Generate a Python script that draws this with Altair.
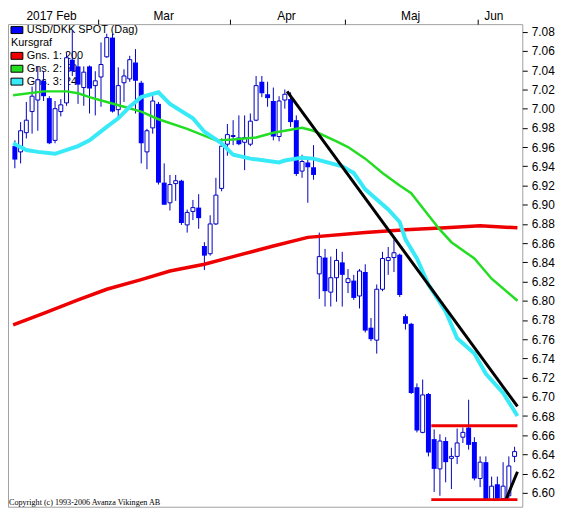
import altair as alt
import pandas as pd

# ---- candle data (trading day index 0..87, Feb 2017 - Jun 2017) ----
opens = [6.961, 6.955, 6.975, 6.997, 7.009, 7.029, 7.011, 6.967, 6.997, 7.006,
         7.051, 7.044, 7.022, 7.044, 7.024, 7.033, 7.054, 7.074, 6.999, 7.027,
         7.031, 7.048, 7.027, 6.955, 6.980, 7.005, 6.923, 6.902, 6.922, 6.925,
         6.879, 6.893, 6.897, 6.857, 6.849, 6.880, 6.917, 6.963, 6.971, 6.970,
         6.965, 6.963, 6.988, 7.028, 7.015, 7.008, 6.971, 7.009, 7.010, 6.988,
         6.935, 6.944, 6.939, 6.828, 6.845, 6.809, 6.824, 6.840, 6.819, 6.821,
         6.805, 6.830, 6.772, 6.759, 6.812, 6.842, 6.845, 6.848, 6.784, 6.776,
         6.710, 6.663, 6.703, 6.656, 6.625, 6.654, 6.636, 6.638, 6.658, 6.668,
         6.653, 6.615, 6.632, 6.593, 6.609, 6.594, 6.597, 6.638]
highs = [6.967, 6.986, 7.007, 7.023, 7.044, 7.039, 7.013, 7.008, 7.010, 7.058,
         7.081, 7.053, 7.044, 7.045, 7.039, 7.069, 7.078, 7.078, 7.043, 7.041,
         7.055, 7.062, 7.029, 6.979, 7.013, 7.007, 6.943, 6.931, 6.931, 6.926,
         6.895, 6.905, 6.911, 6.861, 6.889, 6.928, 6.969, 6.984, 6.988, 6.993,
         6.993, 6.995, 7.034, 7.034, 7.028, 7.022, 7.013, 7.020, 7.017, 6.993,
         6.952, 6.948, 6.962, 6.871, 6.854, 6.846, 6.854, 6.851, 6.833, 6.827,
         6.833, 6.838, 6.782, 6.817, 6.851, 6.856, 6.864, 6.849, 6.786, 6.777,
         6.714, 6.718, 6.704, 6.666, 6.661, 6.658, 6.647, 6.667, 6.668, 6.697,
         6.658, 6.638, 6.638, 6.617, 6.617, 6.632, 6.638, 6.648]
lows = [6.938, 6.943, 6.969, 6.974, 6.977, 7.008, 6.963, 6.964, 6.992, 7.003,
        7.034, 7.005, 7.003, 6.995, 6.993, 7.002, 7.053, 6.996, 6.990, 7.007,
        7.028, 6.995, 6.943, 6.937, 6.974, 6.921, 6.900, 6.894, 6.904, 6.879,
        6.871, 6.884, 6.875, 6.832, 6.847, 6.879, 6.914, 6.951, 6.962, 6.962,
        6.936, 6.961, 6.987, 7.012, 7.002, 6.967, 6.966, 7.000, 6.981, 6.930,
        6.928, 6.902, 6.926, 6.802, 6.794, 6.794, 6.799, 6.794, 6.808, 6.801,
        6.792, 6.767, 6.758, 6.745, 6.810, 6.827, 6.830, 6.804, 6.770, 6.703,
        6.663, 6.662, 6.638, 6.601, 6.597, 6.611, 6.604, 6.630, 6.652, 6.645,
        6.613, 6.606, 6.592, 6.592, 6.592, 6.593, 6.594, 6.632]
closes = [6.947, 6.977, 6.988, 7.013, 7.030, 7.013, 6.964, 7.000, 7.004, 7.053,
          7.039, 7.025, 7.038, 7.021, 7.029, 7.046, 7.074, 6.997, 7.024, 7.034,
          7.051, 7.029, 6.964, 6.977, 7.008, 6.923, 6.900, 6.921, 6.925, 6.881,
          6.892, 6.897, 6.886, 6.847, 6.880, 6.910, 6.961, 6.973, 6.972, 6.963,
          6.970, 6.987, 7.024, 7.016, 7.011, 6.971, 7.008, 7.015, 6.986, 6.932,
          6.945, 6.939, 6.931, 6.846, 6.810, 6.824, 6.842, 6.827, 6.823, 6.803,
          6.831, 6.769, 6.760, 6.812, 6.844, 6.845, 6.850, 6.806, 6.776, 6.704,
          6.665, 6.702, 6.642, 6.625, 6.654, 6.632, 6.638, 6.652, 6.663, 6.650,
          6.615, 6.632, 6.593, 6.607, 6.594, 6.607, 6.628, 6.643]

# ---- moving averages, read at selected day indices ----
ma200_idx = [-0.3, 5, 11, 16, 22, 27, 33, 38, 45, 51, 61, 68, 75, 81, 87.5]
ma200_val = [6.775, 6.787, 6.801, 6.812, 6.822, 6.831, 6.838, 6.846, 6.857,
             6.866, 6.871, 6.874, 6.876, 6.878, 6.876]
ma50_idx = [-0.3, 5, 9, 11, 13, 16, 19, 22, 25, 30, 35, 38, 42, 45, 50, 52, 56,
            58, 61, 64, 67, 69, 72, 74, 76, 80, 83, 87.5]
ma50_val = [7.014, 7.018, 7.018, 7.016, 7.012, 7.007, 7.002, 6.997, 6.989,
            6.979, 6.967, 6.968, 6.970, 6.975, 6.980, 6.977, 6.966, 6.960,
            6.948, 6.933, 6.920, 6.912, 6.889, 6.874, 6.861, 6.844, 6.823, 6.800]
ma24_idx = [-0.3, 2, 4, 7, 11, 13, 16, 18, 20, 22, 25, 27, 31, 33, 36, 38, 41,
            46, 47, 50, 52, 57, 59, 61, 65, 67, 68, 70, 72, 75, 77, 80, 82, 85,
            87.5]
ma24_val = [6.964, 6.957, 6.955, 6.953, 6.961, 6.967, 6.981, 6.990, 7.002,
            7.012, 7.017, 7.005, 6.990, 6.976, 6.964, 6.952, 6.948, 6.944,
            6.946, 6.949, 6.948, 6.940, 6.933, 6.916, 6.895, 6.882, 6.864,
            6.844, 6.817, 6.789, 6.761, 6.745, 6.724, 6.704, 6.680]

# ---- drawn trend lines and levels ----
trend1_idx = [47.4, 87.5]
trend1_val = [7.018, 6.690]
trend2_idx = [85.5, 87.5]
trend2_val = [6.593, 6.622]
level_start = [72.5, 72.5]
level_end = [87.5, 87.5]
level_val = [6.670, 6.593]

# ---- axis labels ----
month_labels = ["2017 Feb", "Mar", "Apr", "Maj", "Jun"]
month_pos = [6.4, 25.9, 47.3, 68.9, 83.4]
month_ticks = [14.5, 37.5, 57.5, 80.5]
y_ticks = [6.60, 6.62, 6.64, 6.66, 6.68, 6.70, 6.72, 6.74, 6.76, 6.78, 6.80,
           6.82, 6.84, 6.86, 6.88, 6.90, 6.92, 6.94, 6.96, 6.98, 7.00, 7.02,
           7.04, 7.06, 7.08]

legend_labels = ["USD/DKK SPOT (Dag)", "Gns. 1: 200", "Gns. 2: 50", "Gns. 3: 24"]
legend_colors = ["#0000ff", "#ee0000", "#22dd22", "#38eaf8"]
legend_rows = [0, 2, 3, 4]

W, H = 519, 487
BLUE = "#0000ff"
DARK = "#0000c0"

df = pd.DataFrame({"i": list(range(len(opens))), "open": opens, "high": highs,
                   "low": lows, "close": closes})
df["up"] = df["close"] >= df["open"]

xs = alt.Scale(domain=[-0.33, 87.48], nice=False, zero=False)
ys = alt.Scale(domain=[6.5856, 7.088], nice=False, zero=False)
xaxis = alt.Axis(orient="top", values=month_ticks, labels=False, tickSize=5,
                 tickColor="black", domain=False, grid=False, title=None)
yaxis = alt.Axis(orient="right", values=y_ticks, format=".2f", tickSize=5,
                 tickColor="black", labelPadding=4, labelFontSize=12,
                 labelColor="black", labelOverlap=False, labelFlush=False,
                 domain=False, grid=False, title=None)

X = alt.X("i:Q", scale=xs, axis=xaxis)

wicks = alt.Chart(df).mark_rule(color=DARK, strokeWidth=1).encode(
    x=X, y=alt.Y("low:Q", scale=ys, axis=yaxis), y2="high:Q")
up_bodies = alt.Chart(df).transform_filter("datum.up").mark_bar(
    size=4, fill="white", stroke=DARK, strokeWidth=1).encode(
    x=X, y=alt.Y("open:Q", scale=ys, axis=yaxis), y2="close:Q")
down_bodies = alt.Chart(df).transform_filter("!datum.up").mark_bar(
    size=5, fill=BLUE, stroke=None).encode(
    x=X, y=alt.Y("open:Q", scale=ys, axis=yaxis), y2="close:Q")


def ma_line(idx, vals, color, width):
    d = pd.DataFrame({"i": idx, "v": vals})
    return alt.Chart(d).mark_line(color=color, strokeWidth=width, clip=True).encode(
        x=X, y=alt.Y("v:Q", scale=ys, axis=yaxis))


l200 = ma_line(ma200_idx, ma200_val, "#ee0000", 3.5)
l50 = ma_line(ma50_idx, ma50_val, "#22dd22", 2.5)
l24 = ma_line(ma24_idx, ma24_val, "#38eaf8", 4)
t1 = ma_line(trend1_idx, trend1_val, "black", 3)
t2 = ma_line(trend2_idx, trend2_val, "black", 3)

lev = pd.DataFrame({"i": level_start, "i2": level_end, "v": level_val})
levels = alt.Chart(lev).mark_rule(color="#ee0000", strokeWidth=3, clip=True).encode(
    x=X, x2="i2:Q", y=alt.Y("v:Q", scale=ys, axis=yaxis))

mdf = pd.DataFrame({"i": month_pos, "label": month_labels})
months = alt.Chart(mdf).mark_text(fontSize=12, align="center", baseline="alphabetic",
                                  color="black").encode(
    x=X, y=alt.value(-4), text="label:N")

price = alt.layer(wicks, up_bodies, down_bodies, l200, l50, l24, t1, t2, levels, months)

ldf = pd.DataFrame({"row": legend_rows, "label": legend_labels, "color": legend_colors})
ls = alt.Scale(domain=[0, 4], range=[6, 58])
swatch = alt.Chart(ldf).mark_tick(orient="horizontal", size=12, thickness=7,
                                  stroke="black", strokeWidth=1, opacity=1).encode(
    x=alt.value(9), y=alt.Y("row:Q", scale=ls, axis=None),
    color=alt.Color("color:N", scale=None))
ltext = alt.Chart(ldf).mark_text(align="left", baseline="middle", fontSize=11,
                                 color="black").encode(
    x=alt.value(19), y=alt.Y("row:Q", scale=ls, axis=None), text="label:N")
kdf = pd.DataFrame({"row": [1], "label": ["Kursgraf"]})
ktext = alt.Chart(kdf).mark_text(align="left", baseline="middle", fontSize=11,
                                 color="black").encode(
    x=alt.value(3), y=alt.Y("row:Q", scale=ls, axis=None), text="label:N")
cdf = pd.DataFrame({"label": ["Copyright (c) 1993-2006 Avanza Vikingen AB"]})
copy = alt.Chart(cdf).mark_text(align="left", baseline="alphabetic", fontSize=8.2,
                                font="Liberation Serif", color="black").encode(
    x=alt.value(1), y=alt.value(H - 2), text="label:N")

legend = alt.layer(swatch, ltext, ktext, copy)

chart = alt.layer(legend, price).resolve_scale(y="independent").properties(
    width=W, height=H, padding=0, background="white"
).configure(font="Liberation Sans").configure_view(stroke="#a0a0a0", strokeWidth=1)

chart.save("out.html", embed_options={"renderer": "svg", "actions": False})
